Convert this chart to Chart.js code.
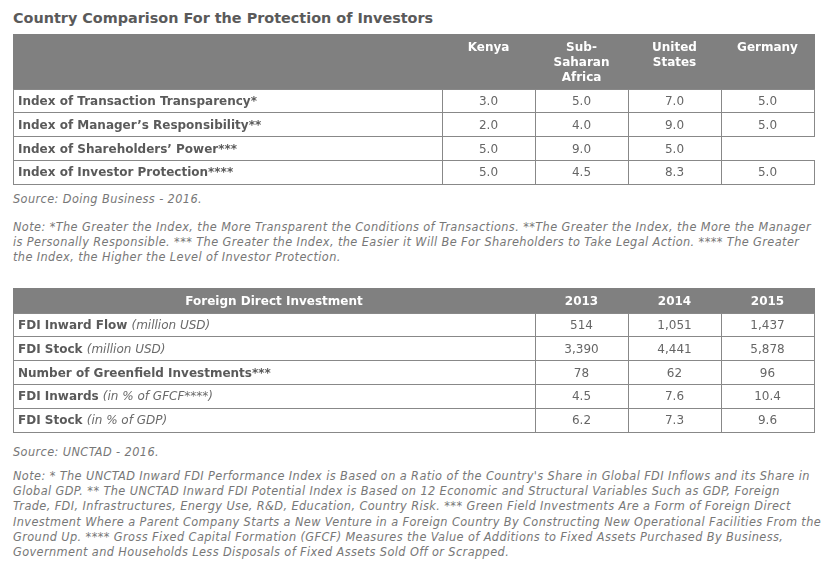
<!DOCTYPE html>
<html lang="en">
<head>
    <meta charset="UTF-8">
    <title>Country Comparison For the Protection of Investors</title>
    <script src="https://cdn.jsdelivr.net/npm/chart.js"></script>
    <style>
        body { margin: 0; background: #fff; width: 834px; height: 564px; position: relative; overflow: hidden; }
        .title { position: absolute; left: 13px; top: 9px; font: bold 14.4px "DejaVu Sans", Verdana, sans-serif; color: #5a5a5a; white-space: nowrap; line-height: 18px; }
        .table-box { position: absolute; left: 13px; }
        .note { position: absolute; left: 13px; font-family: "DejaVu Sans Condensed", "DejaVu Sans", sans-serif; font-stretch: condensed; font-style: italic; font-size: 12.6px; letter-spacing: 0.4px; color: #777; line-height: 15.2px; white-space: nowrap; }
    </style>
</head>
<body>
    <div class="title">Country Comparison For the Protection of Investors</div>

    <div class="table-box" style="top:34px"><canvas id="investorTable" width="802" height="151"></canvas></div>

    <div class="note" style="top:191px">Source: Doing Business - 2016.</div>
    <div class="note" style="top:219px">
        <div>Note: *The Greater the Index, the More Transparent the Conditions of Transactions. **The Greater the Index, the More the Manager</div>
        <div>is Personally Responsible. *** The Greater the Index, the Easier it Will Be For Shareholders to Take Legal Action. **** The Greater</div>
        <div>the Index, the Higher the Level of Investor Protection.</div>
    </div>

    <div class="table-box" style="top:288px"><canvas id="fdiTable" width="802" height="145"></canvas></div>

    <div class="note" style="top:444px">Source: UNCTAD - 2016.</div>
    <div class="note" style="top:468px">
        <div>Note: * The UNCTAD Inward FDI Performance Index is Based on a Ratio of the Country's Share in Global FDI Inflows and its Share in</div>
        <div>Global GDP. ** The UNCTAD Inward FDI Potential Index is Based on 12 Economic and Structural Variables Such as GDP, Foreign</div>
        <div>Trade, FDI, Infrastructures, Energy Use, R&amp;D, Education, Country Risk. *** Green Field Investments Are a Form of Foreign Direct</div>
        <div>Investment Where a Parent Company Starts a New Venture in a Foreign Country By Constructing New Operational Facilities From the</div>
        <div>Ground Up. **** Gross Fixed Capital Formation (GFCF) Measures the Value of Additions to Fixed Assets Purchased By Business,</div>
        <div>Government and Households Less Disposals of Fixed Assets Sold Off or Scrapped.</div>
    </div>

    <script>
        // table 1 - investor protection
        const countries = ['Kenya', 'Sub-Saharan Africa', 'United States', 'Germany'];
        const countryHeads = [['Kenya'], ['Sub-', 'Saharan', 'Africa'], ['United', 'States'], ['Germany']];
        const indexRows = [
            'Index of Transaction Transparency*',
            'Index of Manager\u2019s Responsibility**',
            'Index of Shareholders\u2019 Power***',
            'Index of Investor Protection****'
        ];
        const kenya = [3.0, 2.0, 5.0, 5.0];
        const subSaharan = [5.0, 4.0, 9.0, 4.5];
        const unitedStates = [7.0, 9.0, 5.0, 8.3];
        const germany = [5.0, 5.0, null, 5.0];
        const indexDecimals = [1, 1, 1, 1];

        // table 2 - FDI
        const years = ['2013', '2014', '2015'];
        const fdiRows = ['FDI Inward Flow', 'FDI Stock', 'Number of Greenfield Investments***', 'FDI Inwards', 'FDI Stock'];
        const fdiUnits = ['(million USD)', '(million USD)', '', '(in % of GFCF****)', '(in % of GDP)'];
        const fdi2013 = [514, 3390, 78, 4.5, 6.2];
        const fdi2014 = [1051, 4441, 62, 7.6, 7.3];
        const fdi2015 = [1437, 5878, 96, 10.4, 9.6];
        const fdiDecimals = [0, 0, 0, 1, 1];

        const FONT = '"DejaVu Sans", Verdana, sans-serif';
        const HEAD_BG = '#808080';
        const LINE = '#888';

        function fmt(v, d) {
            return v.toLocaleString('en-US', { minimumFractionDigits: d, maximumFractionDigits: d });
        }

        function crisp(v) { return Math.floor(v) + 0.5; }

        // draws the grid, header and cell texts from the scales
        const tablePlugin = {
            id: 'tableDraw',
            afterDraw(chart, args, opts) {
                const ctx = chart.ctx;
                const xs = chart.scales.x, ys = chart.scales.y;
                const area = chart.chartArea;
                const left = 0, right = area.right;
                const nRows = ys.getLabels().length, nCols = xs.getLabels().length;

                ctx.save();
                // header
                ctx.fillStyle = HEAD_BG;
                ctx.fillRect(left, 0, right - left + 1, area.top);
                ctx.fillStyle = '#fff';
                ctx.font = 'bold 12px ' + FONT;
                ctx.textAlign = 'center';
                ctx.textBaseline = 'middle';
                if (opts.cornerHead) ctx.fillText(opts.cornerHead, area.left / 2, opts.headY);
                opts.heads.forEach((lines, j) => {
                    const x = xs.getPixelForValue(j);
                    lines.forEach((t, k) => ctx.fillText(t, x, opts.headY + k * 15));
                });

                // grid lines
                ctx.strokeStyle = LINE;
                ctx.lineWidth = 1;
                ctx.beginPath();
                for (let i = 0; i <= nRows; i++) {
                    const y = i === 0 ? area.top : (i === nRows ? area.bottom : ys.getPixelForValue(i - 0.5));
                    ctx.moveTo(left, crisp(y));
                    ctx.lineTo(right + 1, crisp(y));
                }
                const dsets = chart.data.datasets;
                for (let i = 0; i < nRows; i++) {
                    const y0 = crisp(i === 0 ? area.top : ys.getPixelForValue(i - 0.5));
                    const y1 = crisp(i === nRows - 1 ? area.bottom : ys.getPixelForValue(i + 0.5));
                    const edges = [left, area.left];
                    for (let j = 0; j < nCols; j++) {
                        const last = j === nCols - 1;
                        // an empty last cell has no right border
                        if (last && dsets[j].data[i].v === null) continue;
                        edges.push(last ? area.right : xs.getPixelForValue(j + 0.5));
                    }
                    edges.forEach(x => { ctx.moveTo(crisp(x), y0); ctx.lineTo(crisp(x), y1); });
                }
                ctx.stroke();

                // row labels
                ctx.textAlign = 'left';
                opts.rows.forEach((label, i) => {
                    const y = ys.getPixelForValue(i);
                    ctx.fillStyle = '#5a5a5a';
                    ctx.font = 'bold 12px ' + FONT;
                    ctx.fillText(label, left + 5, y + 1);
                    if (opts.units && opts.units[i]) {
                        const w = ctx.measureText(label + ' ').width;
                        ctx.font = 'italic 12px ' + FONT;
                        ctx.fillStyle = '#6a6a6a';
                        ctx.fillText(opts.units[i], left + 5 + w, y + 1);
                    }
                });

                // cell values at the point positions
                ctx.textAlign = 'center';
                ctx.font = '12px ' + FONT;
                ctx.fillStyle = '#666';
                dsets.forEach((ds, j) => {
                    const meta = chart.getDatasetMeta(j);
                    ds.data.forEach((p, i) => {
                        if (p.v === null) return;
                        const el = meta.data[i];
                        ctx.fillText(fmt(p.v, opts.decimals[i]), el.x, el.y + 1);
                    });
                });
                ctx.restore();
            }
        };

        function makeTable(id, colLabels, rowLabels, series, labelWidth, headHeight, pluginOpts) {
            return new Chart(document.getElementById(id), {
                type: 'scatter',
                data: {
                    datasets: series.map((vals, j) => ({
                        label: colLabels[j],
                        data: vals.map((v, i) => ({ x: colLabels[j], y: rowLabels[i], v: v })),
                        pointRadius: 0,
                        pointHoverRadius: 0
                    }))
                },
                options: {
                    responsive: false,
                    animation: false,
                    events: [],
                    layout: { padding: { left: 0, top: 0, right: 1, bottom: 1 } },
                    scales: {
                        x: {
                            type: 'category', labels: colLabels, position: 'top', offset: true,
                            grid: { display: false }, border: { display: false }, ticks: { display: false },
                            afterFit: s => { s.height = headHeight; }
                        },
                        y: {
                            type: 'category', labels: rowLabels, offset: true,
                            grid: { display: false }, border: { display: false }, ticks: { display: false },
                            afterFit: s => { s.width = labelWidth; }
                        }
                    },
                    plugins: { legend: { display: false }, tooltip: { enabled: false }, tableDraw: pluginOpts }
                },
                plugins: [tablePlugin]
            });
        }

        makeTable('investorTable', countries, indexRows,
            [kenya, subSaharan, unitedStates, germany], 429, 55,
            { heads: countryHeads, headY: 14, rows: indexRows, decimals: indexDecimals });

        // the two "FDI Stock" rows need distinct category keys
        const fdiKeys = fdiRows.map((r, i) => i + ' ' + r);
        makeTable('fdiTable', years, fdiKeys,
            [fdi2013, fdi2014, fdi2015], 522, 25,
            { heads: years.map(y => [y]), headY: 14, cornerHead: 'Foreign Direct Investment',
              rows: fdiRows, units: fdiUnits, decimals: fdiDecimals });
    </script>
</body>
</html>
